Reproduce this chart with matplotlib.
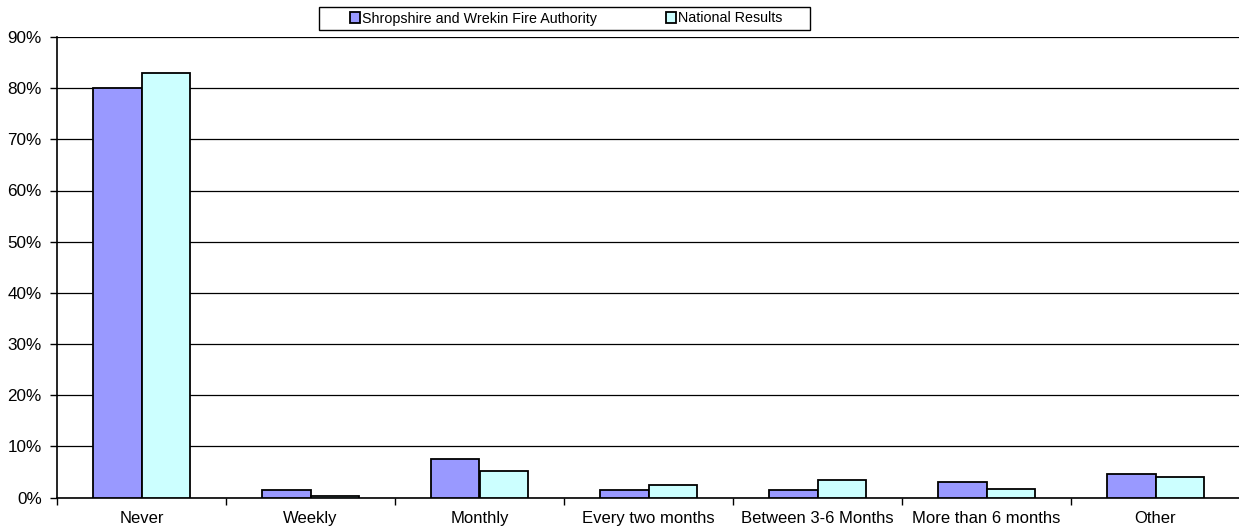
import matplotlib
matplotlib.use("Agg")
import matplotlib.pyplot as plt
import numpy as np
from matplotlib.ticker import FuncFormatter, FixedLocator
from matplotlib.patches import Rectangle

plt.rcParams['font.family'] = ['Liberation Sans', 'DejaVu Sans']

categories = ["Never", "Weekly", "Monthly", "Every two months",
              "Between 3-6 Months", "More than 6 months", "Other"]
shropshire = [80, 1.5, 7.6, 1.5, 1.5, 3.0, 4.6]
national = [83, 0.2, 5.1, 2.5, 3.5, 1.7, 4.0]
series_names = ["Shropshire and Wrekin Fire Authority", "National Results"]
colors = ["#9999FF", "#CCFFFF"]

W, H = 1239, 529
fig = plt.figure(figsize=(W / 100, H / 100), dpi=100)
ax = fig.add_axes([57 / W, 1 - 497.5 / H, (1240 - 57) / W, (497.5 - 37) / H])

x = np.arange(len(categories))
w = 0.285
b1 = ax.bar(x - w / 2, shropshire, w, color=colors[0], edgecolor="black", linewidth=1.3,
            label=series_names[0], zorder=3)
b2 = ax.bar(x + w / 2, national, w, color=colors[1], edgecolor="black", linewidth=1.3,
            label=series_names[1], zorder=3)

ax.set_xlim(-0.5, len(categories) - 0.5)
ax.set_ylim(0, 90)
ax.set_yticks(np.arange(0, 91, 10))
ax.yaxis.set_major_formatter(FuncFormatter(lambda v, p: f"{int(v)}%"))
ax.yaxis.grid(True, color="black", linewidth=0.9, zorder=0)

ax.set_xticks(x)
ax.set_xticklabels(categories)
ax.tick_params(axis="x", which="major", length=0, pad=9.5, labelsize=12)
ax.xaxis.set_minor_locator(FixedLocator(np.arange(-0.5, len(categories), 1)))
ax.tick_params(axis="x", which="minor", length=5, width=1, color="black", direction="out")
ax.tick_params(axis="y", length=5, width=1, labelsize=12.3, pad=6)

for s in ["top", "right"]:
    ax.spines[s].set_visible(False)
ax.spines["left"].set_linewidth(1.2)
ax.spines["bottom"].set_linewidth(1.2)

# legend box drawn as a plain rectangle, entries laid out inside it
fig.patches.append(Rectangle((319 / W, 1 - 29.5 / H), (810 - 319) / W, 22.5 / H,
                             transform=fig.transFigure, facecolor="white",
                             edgecolor="black", linewidth=1.0))
leg = fig.legend(handles=[b1, b2], labels=series_names, loc="center",
                 bbox_to_anchor=(566 / W, 1 - 18.5 / H), ncol=2,
                 frameon=False, fontsize=10.3,
                 handlelength=0.7, handleheight=0.7, handletextpad=0.15,
                 columnspacing=4.8, borderpad=0.2)

fig.savefig("out.png", dpi=100)
